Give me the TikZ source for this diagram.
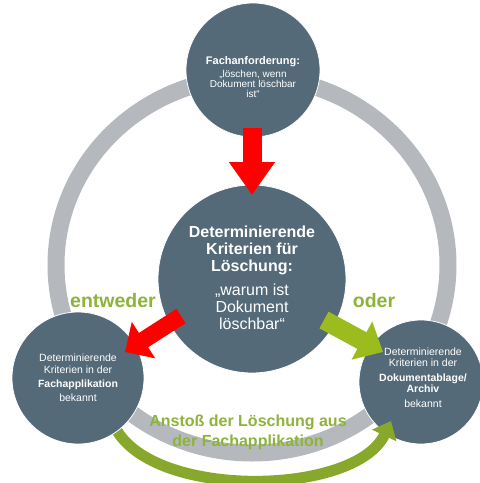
\documentclass[tikz,border=0pt]{standalone}
\usepackage{fontspec}
\setmainfont{Liberation Sans}
\usetikzlibrary{arrows.meta}
\definecolor{circ}{HTML}{546A79}
\definecolor{ringc}{HTML}{B5B9BE}
\definecolor{gtext}{HTML}{8DB33A}
\definecolor{garrow}{HTML}{9BBB1E}
\definecolor{garc}{HTML}{87A82A}
\definecolor{rarrow}{HTML}{FF0000}
\newcommand\ctab[1]{\begin{tabular}[t]{@{}c@{}}#1\end{tabular}}
\begin{document}
\begin{tikzpicture}[x=1pt,y=-1pt,
  disc/.style={circle, fill=circ, draw=white, line width=0.8pt, inner sep=0pt},
  txt/.style={text=white, inner sep=0pt, anchor=base},
  gword/.style={text=gtext, font=\bfseries\fontsize{19.5}{20}\selectfont, inner sep=0pt, anchor=base},
  gnote/.style={text=gtext, font=\bfseries\fontsize{16}{20}\selectfont, inner sep=0pt, anchor=base},
  redarrowdown/.style={draw=rarrow, line width=19pt, -{Triangle[length=33pt,width=44pt]}},
  redarrowleft/.style={draw=rarrow, line width=17pt, -{Triangle[length=22pt,width=42pt]}},
  greenarrow/.style={draw=garrow, line width=19pt, -{Triangle[length=24pt,width=42pt]}},
  greenarc/.style={draw=garc, line width=11pt, -{Triangle[length=16pt,width=26pt]}}
]
\useasboundingbox (0,0) rectangle (480,483);
% ring
\draw[ringc, line width=17pt] (252,265) ellipse [x radius=196, y radius=188];
% right circle
\node[disc, minimum size=124pt] (R) at (421,382) {};
% curved green arrow
\coordinate (gs) at (114,425);
\coordinate (ge) at (391,421);
\draw[greenarc] (gs) .. controls (148,500) and (355,497) .. (ge);
% other circles
\node[disc, minimum size=132pt] (L) at (78,378) {};
\node[disc, minimum size=188pt] (C) at (252,279) {};
\node[disc, minimum size=134pt] (T) at (253,70) {};
% arrows
\coordinate (a1s) at (252,128);
\coordinate (a1e) at (252,195);
\draw[redarrowdown] (a1s) -- (a1e);
\coordinate (a2s) at (181,316);
\coordinate (a2e) at (125,352);
\draw[redarrowleft] (a2s) -- (a2e);
\coordinate (a3s) at (324,320);
\coordinate (a3e) at (383,352);
\draw[greenarrow] (a3s) -- (a3e);
% texts
\node[txt] (tT) at (253,64) {\fontsize{10}{9.5}\selectfont\ctab{{\fontsize{11}{11}\selectfont\bfseries Fachanforderung:}\\[3pt] „löschen, wenn\\ Dokument löschbar\\ ist“}};
\node[txt] (tC) at (252,237) {\fontsize{16}{17}\selectfont\ctab{\bfseries Determinierende\\ \bfseries Kriterien für\\ \bfseries Löschung:\\[7pt] „warum ist\\ Dokument\\ löschbar“}};
\node[txt] (tL) at (78,361) {\fontsize{10.5}{12}\selectfont\ctab{Determinierende\\ Kriterien in der\\[2pt] \bfseries Fachapplikation\\[2pt] bekannt}};
\node[txt] (tR) at (423,355) {\fontsize{10.5}{11}\selectfont\ctab{Determinierende\\ Kriterien in der\\[4pt] \bfseries Dokumentablage/\\ \bfseries Archiv\\[4pt] bekannt}};
\node[gword] (w1) at (113,307) {entweder};
\node[gword] (w2) at (374,307) {oder};
\node[gnote] (w3) at (248,426) {\ctab{Anstoß der Löschung aus\\ der Fachapplikation}};
\end{tikzpicture}
\end{document}
